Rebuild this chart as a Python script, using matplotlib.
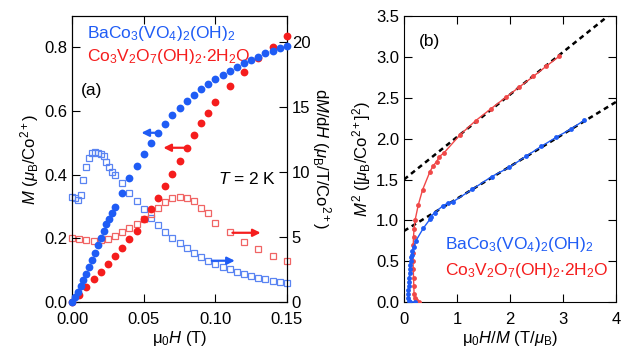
import matplotlib
matplotlib.use("Agg")
import matplotlib.pyplot as plt

plt.rcParams['font.family'] = ['Liberation Sans', 'DejaVu Sans']
plt.rcParams['mathtext.fontset'] = 'custom'
plt.rcParams['mathtext.rm'] = 'Liberation Sans'
plt.rcParams['mathtext.it'] = 'Liberation Sans:italic'
plt.rcParams['mathtext.bf'] = 'Liberation Sans:bold'

# ---- panel (a): M(H) and dM/dH at 2 K ----
H_ba = [0.000, 0.002, 0.004, 0.006, 0.008, 0.010, 0.012, 0.014, 0.016, 0.018,
        0.020, 0.022, 0.024, 0.026, 0.028, 0.030,
        0.035, 0.040, 0.045, 0.050, 0.055, 0.060, 0.065, 0.070, 0.075, 0.080,
        0.085, 0.090, 0.095, 0.100, 0.105, 0.110, 0.115, 0.120, 0.125, 0.130,
        0.135, 0.140, 0.145, 0.150]
M_ba = [0.000, 0.017, 0.033, 0.050, 0.068, 0.088, 0.110, 0.132, 0.155, 0.178,
        0.201, 0.224, 0.246, 0.262, 0.280, 0.297,
        0.343, 0.388, 0.428, 0.464, 0.498, 0.529, 0.558, 0.586, 0.610, 0.631,
        0.650, 0.667, 0.683, 0.699, 0.712, 0.725, 0.736, 0.749, 0.759, 0.770,
        0.780, 0.788, 0.798, 0.804]
dMdH_ba = [8.10, 8.00, 7.85, 8.20, 9.40, 10.40, 11.10, 11.45, 11.55, 11.50,
           11.40, 11.20, 10.80, 10.40, 10.00, 9.75,
           9.18, 8.41, 7.77, 7.13, 6.49, 5.92, 5.36, 4.95, 4.51, 4.13,
           3.74, 3.44, 3.18, 2.90, 2.72, 2.51, 2.33, 2.15, 2.00, 1.87,
           1.74, 1.62, 1.51, 1.44]

H_co = [0.000, 0.005, 0.010, 0.015, 0.020, 0.025, 0.030, 0.035, 0.040, 0.045,
        0.050, 0.055, 0.060, 0.065, 0.070, 0.075, 0.080, 0.085, 0.090, 0.095,
        0.100, 0.110, 0.120, 0.130, 0.140, 0.150]
M_co = [0.000, 0.022, 0.046, 0.071, 0.093, 0.118, 0.144, 0.170, 0.198, 0.224,
        0.259, 0.291, 0.325, 0.364, 0.402, 0.442, 0.482, 0.524, 0.561, 0.594,
        0.628, 0.678, 0.722, 0.765, 0.801, 0.835]
dMdH_co = [4.90, 4.85, 4.77, 4.72, 4.77, 4.85, 5.10, 5.41, 5.67, 5.97,
           6.36, 6.74, 7.20, 7.72, 8.02, 8.10, 8.02, 7.77, 7.20, 6.82,
           6.05, 5.36, 4.64, 4.05, 3.56, 3.18]

# ---- panel (b): Arrott plot ----
X_ba = [0.20, 0.12, 0.09, 0.08, 0.08, 0.085, 0.09, 0.095, 0.10, 0.105, 0.11,
        0.115, 0.125, 0.135, 0.145, 0.16, 0.18, 0.226, 0.365, 0.49, 0.50,
        0.585, 0.73, 0.825, 0.93, 1.29, 1.655, 1.98, 2.296, 2.585, 2.868,
        3.145, 3.396]
Y_ba = [0.0, 0.0, 0.01, 0.05, 0.10, 0.15, 0.20, 0.25, 0.30, 0.35, 0.40,
        0.45, 0.50, 0.55, 0.58, 0.62, 0.67, 0.752, 0.904, 1.014, 1.046,
        1.095, 1.177, 1.21, 1.23, 1.381, 1.536, 1.647, 1.782, 1.904, 2.015,
        2.117, 2.223]
X_co = [0.29, 0.22, 0.20, 0.19, 0.185, 0.18, 0.175, 0.17, 0.17, 0.175, 0.18,
        0.19, 0.21, 0.27, 0.35, 0.49, 0.55, 0.617, 0.667, 0.76, 1.057, 1.35,
        1.64, 1.918, 2.175, 2.44, 2.68, 2.925]
Y_co = [0.0, 0.02, 0.05, 0.10, 0.20, 0.30, 0.40, 0.50, 0.60, 0.70, 0.80,
        0.90, 1.005, 1.19, 1.373, 1.597, 1.667, 1.72, 1.78, 1.83, 2.047, 2.219,
        2.366, 2.505, 2.632, 2.762, 2.885, 3.007]

fit_x = [0.0, 4.0]
fit_ba = [0.87, 0.87 + 0.395 * 4.0]
fit_co = [1.50, 1.50 + 0.52 * 4.0]

blue = '#1f5cf5'
red = '#f51d1d'
blue_l = '#5a84f2'
red_l = '#f06464'
lbl_ba = r'BaCo$_3$(VO$_4$)$_2$(OH)$_2$'
lbl_co = r'Co$_3$V$_2$O$_7$(OH)$_2$$\cdot$2H$_2$O'

fig = plt.figure(figsize=(6.22, 3.5), dpi=100)
ax1 = fig.add_axes([0.1158, 0.137, 0.3456, 0.817])
ax1r = ax1.twinx()
ax2 = fig.add_axes([0.6495, 0.137, 0.341, 0.817])

ax1r.plot(H_ba, dMdH_ba, 's', mfc='none', mec=blue_l, ms=4, mew=0.9, clip_on=False)
ax1r.plot(H_co, dMdH_co, 's', mfc='none', mec=red_l, ms=4, mew=0.9, clip_on=False)
ax1.plot(H_co, M_co, 'o', color=red, ms=5.6, mew=0, clip_on=False, zorder=3)
ax1.plot(H_ba, M_ba, 'o', color=blue, ms=5.6, mew=0, clip_on=False, zorder=4)
ax1.set_zorder(ax1r.get_zorder() + 1)
ax1.patch.set_visible(False)

ax1.set_xlim(0, 0.15)
ax1.set_ylim(0, 0.897)
ax1r.set_ylim(0, 22)
ax1.set_xticks([0, 0.05, 0.10, 0.15])
ax1.set_xticklabels(['0.00', '0.05', '0.10', '0.15'])
ax1.set_yticks([0, 0.2, 0.4, 0.6, 0.8])
ax1r.set_yticks([0, 5, 10, 15, 20])
ax1.tick_params(direction='in', length=6, labelsize=12, top=True, right=False)
ax1.tick_params(axis='x', pad=7.5)
ax1r.tick_params(direction='in', length=6, labelsize=12)
ax1.set_xlabel('μ$_0$$H$ (T)', fontsize=12, labelpad=1)
ax1.set_ylabel(r'$M$ ($\mu_{\rm B}$/Co$^{2+}$)', fontsize=12, labelpad=2)
ax1r.set_ylabel(r'd$M$/d$H$ ($\mu_{\rm B}$/T/Co$^{2+}$)', fontsize=12,
                rotation=270, labelpad=16)

ax1.text(0.07, 0.94, lbl_ba, color=blue, fontsize=12.5, transform=ax1.transAxes, va='center')
ax1.text(0.07, 0.86, lbl_co, color=red, fontsize=12.5, transform=ax1.transAxes, va='center')
ax1.text(0.04, 0.74, '(a)', fontsize=12.5, transform=ax1.transAxes, va='center')
ax1.text(0.68, 0.43, '$T$ = 2 K', fontsize=12.5, transform=ax1.transAxes, va='center')

arr = dict(arrowstyle='-|>', lw=1.6, mutation_scale=11)
ax1.annotate('', xy=(0.0465, 0.531), xytext=(0.0628, 0.531), arrowprops=dict(arr, color=blue))
ax1.annotate('', xy=(0.0618, 0.484), xytext=(0.0815, 0.484), arrowprops=dict(arr, color=red))
ax1r.annotate('', xy=(0.1335, 5.33), xytext=(0.110, 5.33), arrowprops=dict(arr, color=red))
ax1r.annotate('', xy=(0.1155, 3.18), xytext=(0.0956, 3.18), arrowprops=dict(arr, color=blue))

ax2.plot(fit_x, fit_co, color='black', lw=1.8, ls=(0, (2, 1.6)), zorder=2)
ax2.plot(fit_x, fit_ba, color='black', lw=1.8, ls=(0, (2, 1.6)), zorder=2)
ax2.plot(X_co, Y_co, '-o', color='#f04848', lw=1.0, ms=3.5, mew=0, zorder=3)
ax2.plot(X_ba, Y_ba, '-o', color=blue, lw=1.0, ms=3.5, mew=0, zorder=4)
ax2.set_xlim(0, 4)
ax2.set_ylim(0, 3.5)
ax2.set_xticks([0, 1, 2, 3, 4])
ax2.set_yticks([0, 0.5, 1.0, 1.5, 2.0, 2.5, 3.0, 3.5])
ax2.set_yticklabels(['0.0', '0.5', '1.0', '1.5', '2.0', '2.5', '3.0', '3.5'])
ax2.tick_params(direction='in', length=6, labelsize=12, top=True, right=True)
ax2.tick_params(axis='x', pad=7.5)
ax2.set_xlabel('μ$_0$$H$/$M$ (T/$\\mu_{\\rm B}$)', fontsize=12, labelpad=1)
ax2.set_ylabel(r'$M^2$ ([$\mu_{\rm B}$/Co$^{2+}$]$^2$)', fontsize=12, labelpad=2)
ax2.text(0.07, 0.91, '(b)', fontsize=12.5, transform=ax2.transAxes, va='center')
ax2.text(0.195, 0.20, lbl_ba, color=blue, fontsize=12.5, transform=ax2.transAxes, va='center')
ax2.text(0.195, 0.11, lbl_co, color=red, fontsize=12.5, transform=ax2.transAxes, va='center')

fig.savefig('out.png', dpi=100)
